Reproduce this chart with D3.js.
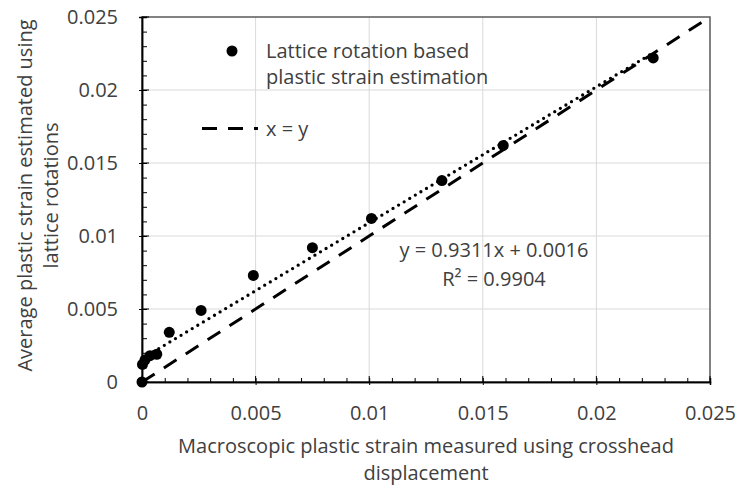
<!DOCTYPE html>
<html>
<head>
<meta charset="utf-8">
<script src="https://cdn.jsdelivr.net/npm/d3@7"></script>
<style>
  body { margin: 0; background: #fff; }
  svg { display: block; font-family: "Open Sans", sans-serif; }
</style>
</head>
<body>
<svg id="chart"></svg>
<script>
// measured points (macroscopic strain vs. lattice-rotation estimate)
const xValues = [0, 0.00002, 0.00013, 0.00035, 0.00065, 0.0012, 0.0026, 0.0049, 0.0075, 0.0101, 0.0132, 0.0159, 0.0225];
const yValues = [0, 0.0012, 0.0015, 0.0018, 0.0019, 0.0034, 0.0049, 0.0073, 0.0092, 0.0112, 0.0138, 0.0162, 0.0222];
// linear trendline as printed on the chart
const trendCoef = [0.9311, 0.0016];
const identityLine = [0, 0.025];
const tickValues = [0, 0.005, 0.01, 0.015, 0.02, 0.025];
const minorTickValues = d3.range(0, 26).map(i => i / 1000);
const legendLabels = ["Lattice rotation based", "plastic strain estimation", "x = y"];
const equationLabels = ["y = 0.9311x + 0.0016", "R² = 0.9904"];
const xTitle = ["Macroscopic plastic strain measured using crosshead", "displacement"];
const yTitle = ["Average plastic strain estimated using", "lattice rotations"];

const width = 736, height = 488;
const margin = {top: 17, right: 26, bottom: 106, left: 142};
const innerW = width - margin.left - margin.right;
const innerH = height - margin.top - margin.bottom;
const textColor = "#404040";
const fontSize = 20;

const svg = d3.select("#chart").attr("width", width).attr("height", height);
const chart = svg.append("g").attr("transform", `translate(${margin.left},${margin.top})`);

const xscale = d3.scaleLinear().domain([0, 0.025]).range([0, innerW]);
const yscale = d3.scaleLinear().domain([0, 0.025]).range([innerH, 0]);

// gridlines
chart.append("g")
    .selectAll("line")
    .data(tickValues.slice(1, -1))
    .join("line")
    .attr("x1", d => xscale(d)).attr("x2", d => xscale(d))
    .attr("y1", 0).attr("y2", innerH)
    .attr("stroke", "#d9d9d9");
chart.append("g")
    .selectAll("line")
    .data(tickValues.slice(1, -1))
    .join("line")
    .attr("x1", 0).attr("x2", innerW)
    .attr("y1", d => yscale(d)).attr("y2", d => yscale(d))
    .attr("stroke", "#d9d9d9");

// plot frame
chart.append("rect")
    .attr("width", innerW).attr("height", innerH)
    .attr("fill", "none").attr("stroke", "#595959").attr("stroke-width", 1.5);

// minor ticks (inside)
const xMinor = chart.append("g").attr("transform", `translate(0,${innerH})`)
    .call(d3.axisBottom(xscale).tickValues(minorTickValues).tickSize(-4).tickFormat(""));
const yMinor = chart.append("g")
    .call(d3.axisLeft(yscale).tickValues(minorTickValues).tickSize(-5).tickFormat(""));

// major axes
const fmt = d => d === 0 ? "0" : String(+d.toFixed(3));
const xAxisG = chart.append("g").attr("transform", `translate(0,${innerH})`)
    .call(d3.axisBottom(xscale).tickValues(tickValues).tickSize(3).tickPadding(21).tickFormat(fmt));
const yAxisG = chart.append("g")
    .call(d3.axisLeft(yscale).tickValues(tickValues).tickSize(3).tickPadding(21).tickFormat(fmt));

// inner part of major ticks
chart.append("g").selectAll("line")
    .data(tickValues).join("line")
    .attr("x1", d => xscale(d)).attr("x2", d => xscale(d))
    .attr("y1", innerH).attr("y2", innerH - 6)
    .attr("stroke", "#000");
chart.append("g").selectAll("line")
    .data(tickValues).join("line")
    .attr("x1", 0).attr("x2", 7)
    .attr("y1", d => yscale(d)).attr("y2", d => yscale(d))
    .attr("stroke", "#000");

[xMinor, yMinor, xAxisG, yAxisG].forEach(g => {
    g.select(".domain").attr("stroke", "#000").attr("stroke-width", 1.5);
    g.selectAll(".tick line").attr("stroke", "#000");
});
[xAxisG, yAxisG].forEach(g => {
    g.selectAll(".tick text")
        .attr("font-size", fontSize)
        .attr("font-family", "Open Sans, sans-serif")
        .attr("fill", textColor);
});

// x = y dashed line
chart.append("line")
    .attr("x1", xscale(identityLine[0])).attr("y1", yscale(identityLine[0]))
    .attr("x2", xscale(identityLine[1])).attr("y2", yscale(identityLine[1]))
    .attr("stroke", "#000").attr("stroke-width", 3)
    .attr("stroke-dasharray", "15,11");

// trendline (dotted)
const xMin = d3.min(xValues), xMax = d3.max(xValues);
const trend = x => trendCoef[0] * x + trendCoef[1];
chart.append("line")
    .attr("x1", xscale(xMin)).attr("y1", yscale(trend(xMin)))
    .attr("x2", xscale(xMax)).attr("y2", yscale(trend(xMax)))
    .attr("stroke", "#000").attr("stroke-width", 3.3)
    .attr("stroke-linecap", "round")
    .attr("stroke-dasharray", "0,6.5");

// points
chart.append("g").selectAll("circle")
    .data(xValues.map((x, i) => ({x: x, y: yValues[i]})))
    .join("circle")
    .attr("cx", d => xscale(d.x))
    .attr("cy", d => yscale(d.y))
    .attr("r", 5.5)
    .attr("fill", "#000");

// equation
chart.append("g").selectAll("text")
    .data(equationLabels).join("text")
    .attr("x", 352).attr("y", (d, i) => 240 + i * 29)
    .attr("text-anchor", "middle")
    .attr("font-size", fontSize).attr("fill", textColor)
    .text(d => d);

// legend
const legend = svg.append("g");
legend.append("circle").attr("cx", 232).attr("cy", 51).attr("r", 5.5).attr("fill", "#000");
legend.append("line")
    .attr("x1", 202).attr("x2", 258).attr("y1", 128.5).attr("y2", 128.5)
    .attr("stroke", "#000").attr("stroke-width", 3)
    .attr("stroke-dasharray", "15,11");
legend.selectAll("text")
    .data(legendLabels).join("text")
    .attr("x", 266)
    .attr("y", (d, i) => [58, 84, 136][i])
    .attr("font-size", fontSize).attr("fill", textColor)
    .text(d => d);

// axis titles
svg.append("g").selectAll("text")
    .data(xTitle).join("text")
    .attr("x", margin.left + innerW / 2)
    .attr("y", (d, i) => 453 + i * 27)
    .attr("text-anchor", "middle")
    .attr("font-size", fontSize).attr("fill", textColor)
    .text(d => d);
svg.append("g").selectAll("text")
    .data(yTitle).join("text")
    .attr("transform", (d, i) => `translate(${32 + i * 26},${margin.top + innerH / 2 - 4}) rotate(-90)`)
    .attr("text-anchor", "middle")
    .attr("font-size", fontSize).attr("fill", textColor)
    .text(d => d);
</script>
</body>
</html>
